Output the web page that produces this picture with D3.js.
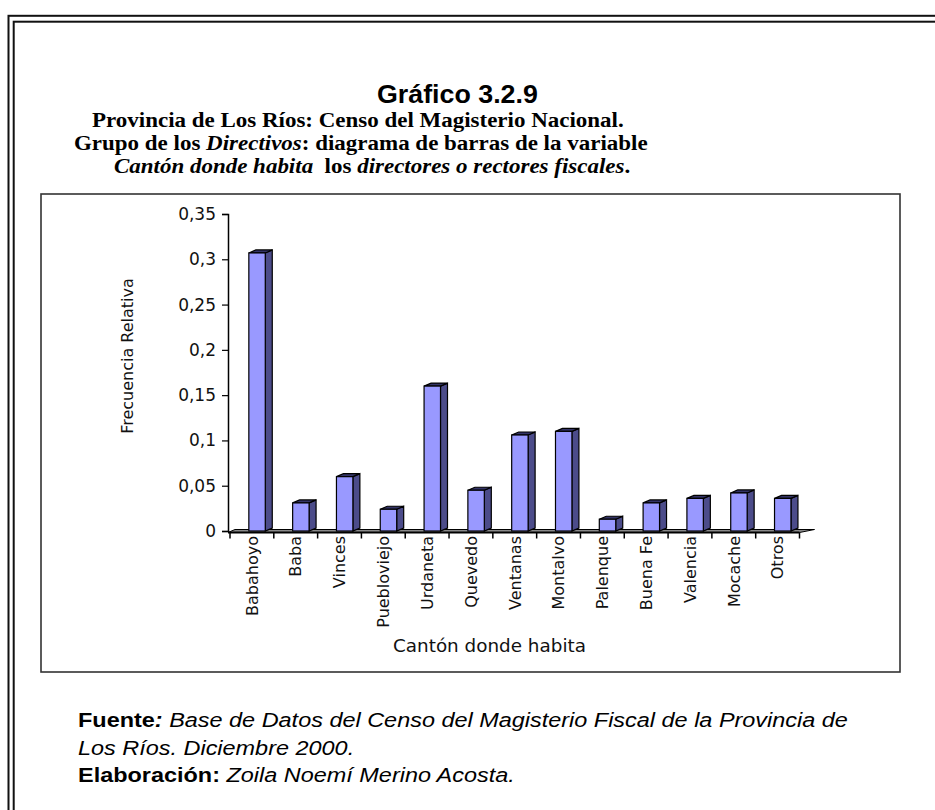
<!DOCTYPE html>
<html>
<head>
<meta charset="utf-8">
<script src="https://cdn.jsdelivr.net/npm/d3@7"></script>
<style>
  body { margin: 0; background: #fff; }
</style>
</head>
<body>
<script>
// data
var cantones = ["Babahoyo", "Baba", "Vinces", "Puebloviejo", "Urdaneta", "Quevedo", "Ventanas",
                "Montalvo", "Palenque", "Buena Fe", "Valencia", "Mocache", "Otros"];
var frecuencia = [0.307, 0.031, 0.060, 0.024, 0.160, 0.045, 0.106, 0.110, 0.013, 0.031, 0.036, 0.042, 0.036];
var yTicks = [0, 0.05, 0.1, 0.15, 0.2, 0.25, 0.3, 0.35];

var w = 935, h = 810;

var svg = d3.select("body").append("svg")
    .attr("width", w)
    .attr("height", h);

// squeeze/stretch a text horizontally by k, from its left x
function squeeze(t, x, k) {
    t.attr("transform", "translate(" + x + ",0) scale(" + k + ",1) translate(" + (-x) + ",0)");
}
function fit(t, x, width) {
    var k = width / t.node().getComputedTextLength();
    squeeze(t, x, k);
    return k;
}

// double page frame (runs off the right and bottom of the page)
svg.append("rect").attr("x", 8.5).attr("y", 15.8).attr("width", 1000).attr("height", 900)
    .attr("fill", "none").attr("stroke", "#111").attr("stroke-width", 2);
svg.append("rect").attr("x", 13.7).attr("y", 21.7).attr("width", 1000).attr("height", 900)
    .attr("fill", "none").attr("stroke", "#111").attr("stroke-width", 2);

// titles
var t0 = svg.append("text").attr("x", 377).attr("y", 103)
    .attr("font-family", "Liberation Sans, Arial, sans-serif").attr("font-weight", "bold")
    .attr("font-size", 25).text("Gráfico 3.2.9");
fit(t0, 377, 161);

var serif = "Liberation Serif, Times New Roman, serif";
var t1 = svg.append("text").attr("x", 92).attr("y", 127)
    .attr("font-family", serif).attr("font-weight", "bold").attr("font-size", 22)
    .text("Provincia de Los Ríos: Censo del Magisterio Nacional.");
var k = fit(t1, 92, 532);

var t2 = svg.append("text").attr("x", 74).attr("y", 150)
    .attr("font-family", serif).attr("font-weight", "bold").attr("font-size", 22);
t2.append("tspan").text("Grupo de los ");
t2.append("tspan").attr("font-style", "italic").text("Directivos");
t2.append("tspan").text(": diagrama de barras de la variable");
squeeze(t2, 74, k);

var t3 = svg.append("text").attr("x", 114).attr("y", 173)
    .attr("font-family", serif).attr("font-weight", "bold").attr("font-size", 22)
    .attr("xml:space", "preserve");
t3.append("tspan").attr("font-style", "italic").text("Cantón donde habita");
t3.append("tspan").text("  los ");
t3.append("tspan").attr("font-style", "italic").text("directores o rectores fiscales");
t3.append("tspan").text(".");
squeeze(t3, 114, k);

// chart box
svg.append("rect").attr("x", 41).attr("y", 194).attr("width", 859).attr("height", 478)
    .attr("fill", "#fff").attr("stroke", "#333").attr("stroke-width", 1.6);

var chartFont = "DejaVu Sans, Verdana, sans-serif";

var x = d3.scaleBand().domain(cantones).range([230, 799.5]).padding(0);
var y = d3.scaleLinear().domain([0, 0.35]).range([531, 214]);

var locale = d3.formatLocale({decimal: ",", thousands: ".", grouping: [3], currency: ["", ""]});
var fmt = locale.format("~g");

// y axis
var gy = svg.append("g").attr("transform", "translate(228,0)")
    .call(d3.axisLeft(y).tickValues(yTicks).tickSize(6).tickPadding(6).tickFormat(fmt));
gy.select(".domain").attr("stroke", "#000").attr("stroke-width", 1.5);
gy.selectAll(".tick line").attr("stroke", "#000").attr("stroke-width", 1.2);
gy.selectAll(".tick text").attr("font-family", chartFont).attr("font-size", 17).attr("fill", "#111");

// floor of the 3D chart
var dx = 7, dy = -3;
var x0 = 228, x1 = 799.5, yb = y(0);
svg.append("polygon")
    .attr("points", [[x0, yb + 1.5], [x1, yb + 1.5], [x1 + dx + 8, yb + 1.5 + dy], [x0 + dx, yb + 1.5 + dy]].join(" "))
    .attr("fill", "#8a8a8a").attr("stroke", "#000").attr("stroke-width", 1);
svg.append("line").attr("x1", x0).attr("x2", x1).attr("y1", yb + 1.5).attr("y2", yb + 1.5)
    .attr("stroke", "#000").attr("stroke-width", 2);

// x axis boundary ticks
var bounds = cantones.map(function(c) { return x(c); }).concat([x1]);
svg.append("g").selectAll("line").data(bounds).enter().append("line")
    .attr("x1", function(d) { return d; }).attr("x2", function(d) { return d; })
    .attr("y1", yb + 1.5).attr("y2", yb + 7.5)
    .attr("stroke", "#000").attr("stroke-width", 1.5);

// bars: side face, top face, front face
var bw = x.bandwidth();
var bars = svg.append("g").selectAll("g").data(cantones).enter().append("g");

function fx(c) { return x(c) + bw * 0.43; }
var fw = bw * 0.375;

bars.append("polygon")
    .attr("points", function(c, i) {
        var l = fx(c) + fw, t = y(frecuencia[i]);
        return [[l, yb], [l, t], [l + dx, t + dy], [l + dx, yb + dy]].join(" ");
    })
    .attr("fill", "#4c4c8a").attr("stroke", "#000").attr("stroke-width", 1.2);

bars.append("polygon")
    .attr("points", function(c, i) {
        var l = fx(c), t = y(frecuencia[i]);
        return [[l, t], [l + fw, t], [l + fw + dx, t + dy], [l + dx, t + dy]].join(" ");
    })
    .attr("fill", "#333366").attr("stroke", "#000").attr("stroke-width", 1.2);

bars.append("rect")
    .attr("x", function(c) { return fx(c); })
    .attr("y", function(c, i) { return y(frecuencia[i]); })
    .attr("width", fw)
    .attr("height", function(c, i) { return yb - y(frecuencia[i]); })
    .attr("fill", "#9999ff").attr("stroke", "#000").attr("stroke-width", 1.2);

// category labels
svg.append("g").selectAll("text").data(cantones).enter().append("text")
    .attr("transform", function(c) { return "translate(" + (x(c) + bw / 2) + "," + (yb + 5) + ") rotate(-90)"; })
    .attr("dy", "0.36em")
    .attr("text-anchor", "end")
    .attr("font-family", chartFont).attr("font-size", 16).attr("fill", "#111")
    .text(function(c) { return c; });

// axis titles
svg.append("text")
    .attr("transform", "translate(133,356) rotate(-90)")
    .attr("text-anchor", "middle")
    .attr("font-family", chartFont).attr("font-size", 16).attr("fill", "#111")
    .text("Frecuencia Relativa");

var xt = svg.append("text").attr("x", 393).attr("y", 652)
    .attr("font-family", chartFont).attr("font-size", 17).attr("fill", "#111")
    .text("Cantón donde habita");
fit(xt, 393, 193);

// footnotes, all three lines share the stretch of the first one
var sans = "Liberation Sans, Arial, sans-serif";
var f1 = svg.append("text").attr("x", 78).attr("y", 727).attr("font-family", sans).attr("font-size", 21);
f1.append("tspan").attr("font-weight", "bold").text("Fuente");
f1.append("tspan").attr("font-weight", "bold").attr("font-style", "italic").text(": ");
f1.append("tspan").attr("font-style", "italic").text("Base de Datos del Censo del Magisterio Fiscal de la Provincia de");
var kf = fit(f1, 78, 770);

var f2 = svg.append("text").attr("x", 78).attr("y", 755).attr("font-family", sans).attr("font-size", 21)
    .attr("font-style", "italic").text("Los Ríos. Diciembre 2000.");
squeeze(f2, 78, kf);

var f3 = svg.append("text").attr("x", 78).attr("y", 782).attr("font-family", sans).attr("font-size", 21);
f3.append("tspan").attr("font-weight", "bold").text("Elaboración: ");
f3.append("tspan").attr("font-style", "italic").text("Zoila Noemí Merino Acosta.");
squeeze(f3, 78, kf);
</script>
</body>
</html>
